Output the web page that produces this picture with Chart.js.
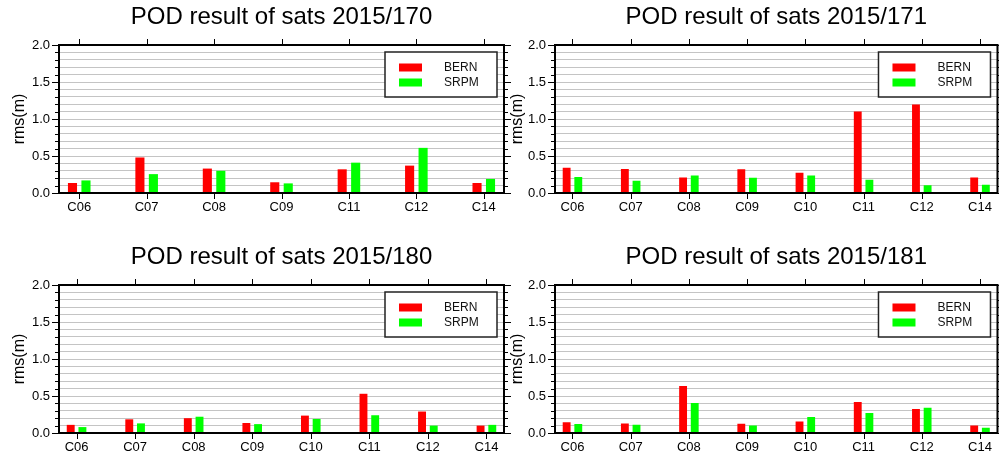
<!DOCTYPE html>
<html>
<head>
<meta charset="utf-8">
<script src="https://cdn.jsdelivr.net/npm/chart.js@4/dist/chart.umd.min.js"></script>
<style>
  html, body { margin: 0; padding: 0; background: #fff; overflow: hidden; }
  #wrap { position: relative; width: 999px; height: 459px; }
  canvas { position: absolute; }
</style>
</head>
<body>
<div id="wrap">
  <canvas id="c170" width="512" height="219" style="left:0px;top:0px"></canvas>
  <canvas id="c171" width="499" height="219" style="left:500px;top:0px"></canvas>
  <canvas id="c180" width="512" height="219" style="left:0px;top:240px"></canvas>
  <canvas id="c181" width="499" height="219" style="left:500px;top:240px"></canvas>
</div>
<script>
// Satellites and orbit RMS (m) per day, BERN vs SRPM solar radiation pressure models
const sats170 = ['C06', 'C07', 'C08', 'C09', 'C11', 'C12', 'C14'];
const bern170 = [0.135, 0.48, 0.33, 0.145, 0.32, 0.37, 0.135];
const srpm170 = [0.17, 0.255, 0.30, 0.13, 0.41, 0.61, 0.19];

const sats171 = ['C06', 'C07', 'C08', 'C09', 'C10', 'C11', 'C12', 'C14'];
const bern171 = [0.34, 0.325, 0.21, 0.32, 0.275, 1.10, 1.195, 0.21];
const srpm171 = [0.215, 0.165, 0.235, 0.205, 0.235, 0.18, 0.105, 0.11];

const sats180 = ['C06', 'C07', 'C08', 'C09', 'C10', 'C11', 'C12', 'C14'];
const bern180 = [0.11, 0.185, 0.20, 0.135, 0.235, 0.53, 0.29, 0.10];
const srpm180 = [0.08, 0.13, 0.22, 0.12, 0.19, 0.24, 0.10, 0.11];

const sats181 = ['C06', 'C07', 'C08', 'C09', 'C10', 'C11', 'C12', 'C14'];
const bern181 = [0.145, 0.13, 0.635, 0.125, 0.155, 0.42, 0.325, 0.10];
const srpm181 = [0.12, 0.11, 0.405, 0.10, 0.215, 0.27, 0.34, 0.07];

// y axis: grid every 0.1, labelled every 0.5
const yTickValues = [0, 0.1, 0.2, 0.3, 0.4, 0.5, 0.6, 0.7, 0.8, 0.9, 1.0,
                     1.1, 1.2, 1.3, 1.4, 1.5, 1.6, 1.7, 1.8, 1.9, 2.0];
const yLabelValues = [0, 0.5, 1.0, 1.5, 2.0];
const seriesNames = ['BERN', 'SRPM'];
const seriesColors = ['#ff0000', '#00ff00'];

Chart.defaults.font.family = '"Liberation Sans", Arial, Helvetica, sans-serif';
Chart.defaults.color = '#000';

const isLabelled = v => yLabelValues.some(l => Math.abs(l - v) < 1e-6);

// Frame, outward tick marks and boxed legend
const framePlugin = {
  id: 'frameTicks',
  afterDatasetsDraw(chart) {
    const { ctx, chartArea: a, scales: { x, y } } = chart;
    ctx.save();
    ctx.strokeStyle = '#000';
    ctx.lineWidth = 1;
    ctx.beginPath();
    yTickValues.forEach(v => {
      const py = Math.round(y.getPixelForValue(v)) + 0.5;
      const len = isLabelled(v) ? 7 : 4;
      ctx.moveTo(a.left - len, py); ctx.lineTo(a.left, py);
      ctx.moveTo(a.right, py); ctx.lineTo(a.right + len, py);
    });
    x.ticks.forEach(t => {
      const px = Math.round(x.getPixelForValue(t.value)) + 0.5;
      ctx.moveTo(px, a.top - 6); ctx.lineTo(px, a.top);
      ctx.moveTo(px, a.bottom); ctx.lineTo(px, a.bottom + 6);
    });
    ctx.stroke();
    ctx.lineWidth = 2;
    ctx.strokeRect(a.left, a.top, a.right - a.left, a.bottom - a.top);
    ctx.restore();
  },
  afterDraw(chart) {
    const { ctx, chartArea: a } = chart;
    const w = 112, h = 45;
    const bx = a.right - 7 - w, by = a.top + 7;
    ctx.save();
    ctx.fillStyle = '#fff';
    ctx.fillRect(bx, by, w, h);
    ctx.strokeStyle = '#222';
    ctx.lineWidth = 1.5;
    ctx.strokeRect(bx, by, w, h);
    ctx.font = '12px "Liberation Sans", Arial, sans-serif';
    ctx.textBaseline = 'middle';
    ctx.textAlign = 'left';
    chart.data.datasets.forEach((ds, i) => {
      const cy = by + 15.5 + i * 15;
      ctx.fillStyle = ds.backgroundColor;
      ctx.fillRect(bx + 14, cy - 4, 23, 8);
      ctx.fillStyle = '#111';
      ctx.fillText(ds.label, bx + 59, cy);
    });
    ctx.restore();
  }
};

function makeChart(id, title, sats, bern, srpm, axisWidth, padRight, yTitlePad) {
  const toPoints = vals => vals.map((v, i) => ({ x: i, y: v }));
  new Chart(document.getElementById(id), {
    type: 'bar',
    data: {
      datasets: [bern, srpm].map((vals, k) => ({
        label: seriesNames[k],
        data: toPoints(vals),
        backgroundColor: seriesColors[k],
        borderWidth: 0,
        categoryPercentage: 0.4,
        barPercentage: 0.675
      }))
    },
    options: {
      responsive: false,
      animation: false,
      devicePixelRatio: 1,
      layout: { padding: { left: 0, right: padRight, top: 0, bottom: 0 } },
      plugins: {
        legend: { display: false },
        tooltip: { enabled: false },
        title: {
          display: true,
          text: title,
          fullSize: false,
          color: '#000',
          font: { size: 24, weight: 'normal' },
          padding: { top: 3, bottom: 13.2 }
        }
      },
      scales: {
        x: {
          type: 'linear',
          position: 'bottom',
          offset: false,
          min: -0.3,
          max: sats.length - 0.7,
          bounds: 'data',
          grid: { display: false, drawTicks: false, offset: false },
          border: { display: false },
          ticks: {
            autoSkip: false,
            maxRotation: 0,
            padding: 7,
            font: { size: 13 },
            color: '#000',
            callback: v => sats[Math.round(v)] ?? ''
          },
          afterBuildTicks: s => {
            s.ticks = sats.map((_, i) => ({ value: i }));
            s.min = -0.3;
            s.max = sats.length - 0.7;
          },
          afterFit: s => { s.height = 26; }
        },
        y: {
          min: 0,
          max: 2,
          grid: { color: '#c4c4c4', lineWidth: 1, drawTicks: false },
          border: { display: false },
          ticks: {
            autoSkip: false,
            padding: 9,
            font: { size: 13 },
            color: '#000',
            callback: v => isLabelled(v) ? v.toFixed(1) : ''
          },
          afterBuildTicks: s => { s.ticks = yTickValues.map(v => ({ value: v })); },
          afterFit: s => { s.width = axisWidth; },
          title: {
            display: true,
            text: 'rms(m)',
            color: '#000',
            font: { size: 16 },
            padding: { top: yTitlePad, bottom: 0 }
          }
        }
      }
    },
    plugins: [framePlugin]
  });
}

makeChart('c170', 'POD result of sats 2015/170', sats170, bern170, srpm170, 59, 8, 9.5);
makeChart('c171', 'POD result of sats 2015/171', sats171, bern171, srpm171, 55, 1, 7.5);
makeChart('c180', 'POD result of sats 2015/180', sats180, bern180, srpm180, 59, 8, 9.5);
makeChart('c181', 'POD result of sats 2015/181', sats181, bern181, srpm181, 55, 1, 7.5);
</script>
</body>
</html>
